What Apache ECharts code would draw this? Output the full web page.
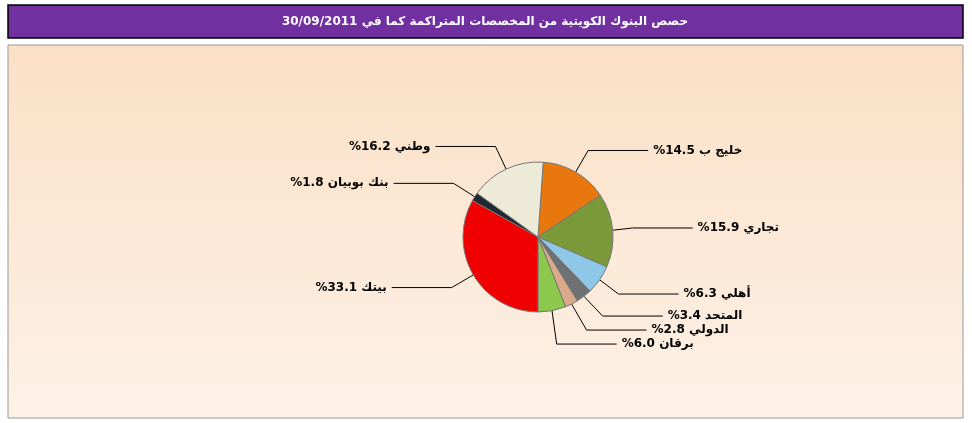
<!DOCTYPE html>
<html><head><meta charset="utf-8">
<script src="https://cdn.jsdelivr.net/npm/echarts@6/dist/echarts.min.js"></script>
<style>html,body{margin:0;padding:0;background:#fff}#c{width:972px;height:423px}</style>
</head><body><div id="c"></div>
<script>
const titleText = 'حصص البنوك الكويتية من المخصصات المتراكمة كما في 30/09/2011';
const names = ['خليج ب','تجاري','أهلي','المتحد','الدولي','برقان','بيتك','بنك بوبيان','وطني'];
const values = [14.5,15.9,6.3,3.4,2.8,6.0,33.1,1.8,16.2];
const colors = ['#E8770E','#7A9A3A','#8EC8E6','#6E7072','#D9A98A','#8CC84B','#F00000','#202830','#EEEAD8'];
const chart = echarts.init(document.getElementById('c'));
chart.setOption({
  animation:false,
  graphic:[
    {type:'rect',shape:{x:8,y:5,width:955,height:33},style:{fill:'#7030A0',stroke:'#000',lineWidth:1.5}},
    {type:'text',x:485,y:22,style:{text:titleText,fill:'#fff',font:'bold 12px "DejaVu Sans"',textAlign:'center',textVerticalAlign:'middle'}},
    {type:'rect',shape:{x:8,y:45,width:955,height:373},style:{stroke:'#999',lineWidth:1,
      fill:new echarts.graphic.LinearGradient(0,0,0,1,[{offset:0,color:'#FBE0C6'},{offset:1,color:'#FDF1E6'}])},z:-10}
  ],
  series:[{
    type:'pie',center:[538,237],radius:[0,75],startAngle:86,clockwise:true,
    data:names.map((n,i)=>({name:n,value:values[i],itemStyle:{color:colors[i]}})),
    itemStyle:{borderColor:'#777',borderWidth:1},
    label:{formatter:p=>'%'+p.value.toFixed(1)+' '+p.name,fontSize:12,fontWeight:'bold',color:'#000',fontFamily:'DejaVu Sans'},
    labelLine:{length:25,length2:60,lineStyle:{color:'#000',width:1}}
  }]
});
</script></body></html>
